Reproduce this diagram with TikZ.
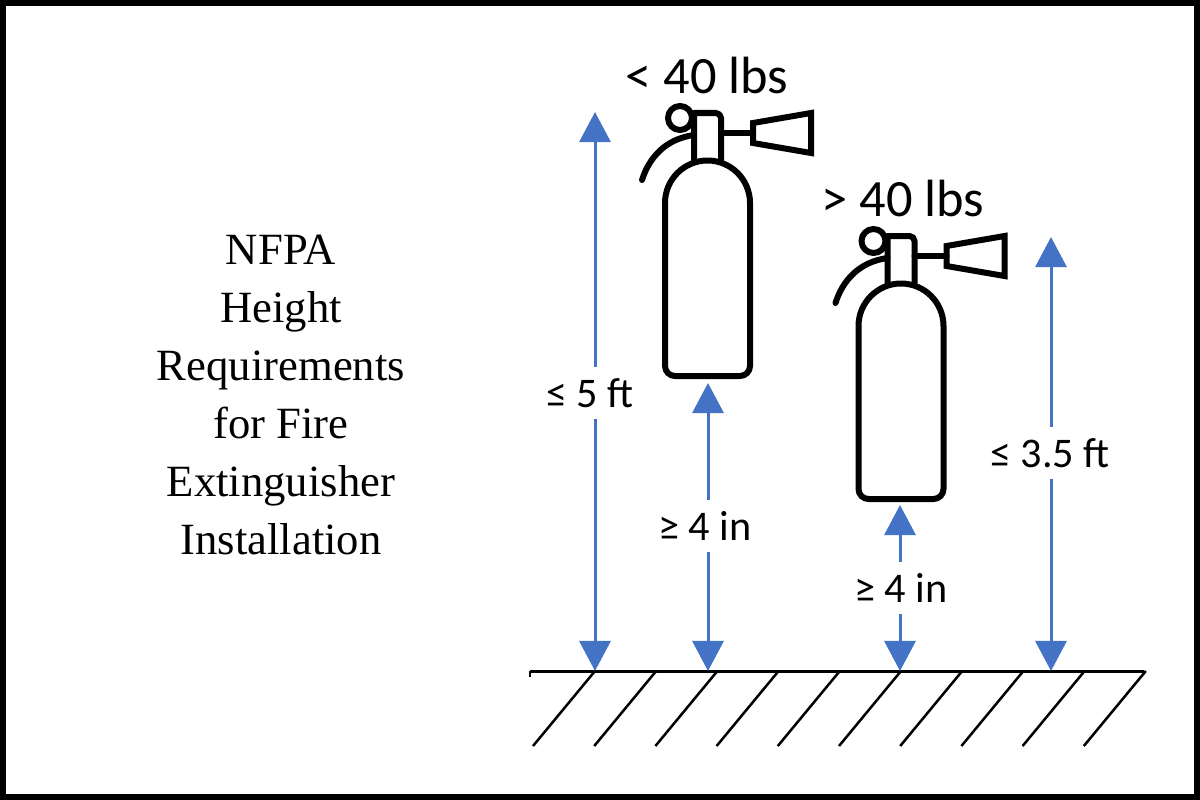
\documentclass[tikz,border=0pt]{standalone}
\usepackage{fontspec}
\setmainfont{Liberation Serif}
\newfontfamily\labelfont{Carlito}
\usetikzlibrary{arrows.meta}
\tikzset{
  dim/.style={draw=dimblue,line width=.03cm,{Triangle[length=.3cm,width=.31cm]}-{Triangle[length=.3cm,width=.31cm]}},
  dimlabel/.style={fill=white,inner sep=0pt,minimum height=.51cm,font=\labelfont\fontsize{12}{14}\selectfont},
  weightlabel/.style={inner sep=0pt,font=\labelfont\fontsize{14.9}{17}\selectfont},
  hatch/.style={line width=.025cm,black},
  outline/.style={line width=.06cm,black,line join=round,line cap=round},
  extinguisher/.pic={
    \draw[outline] (15,86)..controls (22,64) and (38,45) .. (67,41);
    \draw[outline,fill=white] (53,24) circle (12);
    \draw[outline] (67,66) -- (67,19) [rounded corners=.05cm] -- (94,19) -- (94,66);
    \draw[outline] (94,39) -- (126,39);
    \draw[outline,line join=miter] (126,29) -- (184,19) -- (184,59) -- (126,49) -- cycle;
    \draw[outline] (38,109) arc (180:360:42.5) -- (123,150) [rounded corners=.1cm] -- (123,282) -- (38,282) -- (38,150) [sharp corners] -- cycle;
  }
}
\definecolor{dimblue}{RGB}{68,114,196}
\begin{document}
\begin{tikzpicture}[x=.01cm,y=-.01cm]
\useasboundingbox (0,0) rectangle (1200,800);
\draw[line width=.06cm,black] (3,3) rectangle (1197,797);
% title
\node[align=center,font=\fontsize{12.7}{16.5}\selectfont] (title) at (281,395) {NFPA\\Height\\Requirements\\for Fire\\Extinguisher\\Installation};
% ground
\draw[line width=.03cm,black] (530,671) coordinate (groundl) -- (1144,671) coordinate (groundr);
\draw[hatch] (groundl) -- (530,677);
\foreach \i in {0,...,9}
  \draw[hatch] (595+61.2*\i,671) -- ++(-62,75);
% extinguishers
\pic at (627,94) {extinguisher};
\pic at (820.5,217) {extinguisher};
\node[weightlabel] (light) at (707,75) {< 40 lbs};
\node[weightlabel] (heavy) at (903,198) {> 40 lbs};
% dimensions
\coordinate (a1) at (595,112); \coordinate (a2) at (595,671);
\coordinate (b1) at (708,383); \coordinate (b2) at (708,671);
\coordinate (c1) at (900,505); \coordinate (c2) at (900,671);
\coordinate (d1) at (1051,237); \coordinate (d2) at (1051,671);
\draw[dim] (a1) -- (a2);
\draw[dim] (b1) -- (b2);
\draw[dim] (c1) -- (c2);
\draw[dim] (d1) -- (d2);
\node[dimlabel] (fivefeet) at (590,393) {≤ 5 ft};
\node[dimlabel] (fourin) at (705,526) {≥ 4 in};
\node[dimlabel] (fourinb) at (901,588) {≥ 4 in};
\node[dimlabel] (threefeet) at (1050,453) {≤ 3.5 ft};
\end{tikzpicture}
\end{document}
